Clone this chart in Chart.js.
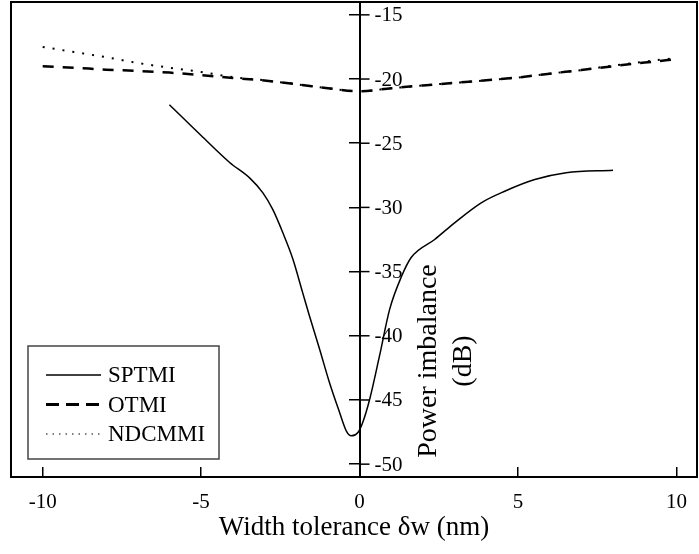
<!DOCTYPE html>
<html>
<head>
<meta charset="utf-8">
<script src="https://cdn.jsdelivr.net/npm/chart.js@4.4.0/dist/chart.umd.min.js"></script>
<style>
  html, body { margin: 0; padding: 0; background: #fff; }
</style>
</head>
<body>
<canvas id="myChart" width="699" height="554"></canvas>
<script>
// width deviation (nm) and imbalance (dB) for each design
const sptmiX = [-6.0, -5.0, -4.1, -3.47, -3.05, -2.74, -2.42, -2.1, -1.8, -1.58, -1.26, -0.95, -0.63, -0.42, -0.26, -0.05, 0.1, 0.32, 0.63, 0.95, 1.32, 1.63, 2.37, 3.0, 3.84, 4.58, 5.53, 6.52, 8.0];
const sptmiY = [-22.0, -24.4, -26.5, -27.7, -28.87, -30.16, -31.98, -34.05, -36.6, -38.46, -41.05, -43.64, -45.97, -47.4, -47.79, -47.53, -46.75, -44.94, -41.57, -37.94, -35.4, -33.9, -32.5, -31.2, -29.64, -28.74, -27.83, -27.3, -27.1];

const wideX = [-10, -9, -8, -7, -6, -5, -4, -3, -2, -1, 0, 1, 2, 3, 4, 5, 6, 7, 8, 9, 10];
const otmiY = [-19.0, -19.12, -19.27, -19.37, -19.5, -19.7, -19.92, -20.12, -20.4, -20.72, -20.95, -20.72, -20.5, -20.3, -20.1, -19.88, -19.58, -19.3, -19.0, -18.72, -18.45];
const ndcmmiY = [-17.5, -17.9, -18.3, -18.75, -19.12, -19.45, -19.85, -20.1, -20.4, -20.72, -20.95, -20.72, -20.5, -20.3, -20.1, -19.88, -19.58, -19.3, -18.95, -18.65, -18.35];

const xTicks = [-10, -5, 0, 5, 10];
const yTicks = [-15, -20, -25, -30, -35, -40, -45, -50];

const serif = 'Liberation Serif';

function pairs(xs, ys) {
  return xs.map((x, i) => ({ x: x, y: ys[i] }));
}

// legend sample styles
const legendRows = [
  { label: 'SPTMI', dash: [], width: 1.5 },
  { label: 'OTMI', dash: [13, 7], width: 3 },
  { label: 'NDCMMI', dash: [1.5, 5], width: 1.2 },
];

// frame, y axis labels/ticks on the right side, y title and legend box
const decorations = {
  id: 'decorations',
  afterDraw(chart) {
    const ctx = chart.ctx;
    const area = chart.chartArea;
    const xs = chart.scales.x;
    const ys = chart.scales.y;
    const x0 = xs.getPixelForValue(0);

    ctx.save();
    ctx.strokeStyle = '#000';
    ctx.lineWidth = 2;
    ctx.strokeRect(area.left, area.top, area.right - area.left, area.bottom - area.top);

    ctx.lineWidth = 1.5;
    ctx.fillStyle = '#000';
    ctx.font = '21px "' + serif + '"';
    ctx.textAlign = 'left';
    ctx.textBaseline = 'middle';
    ys.ticks.forEach(t => {
      const y = ys.getPixelForValue(t.value);
      ctx.beginPath();
      ctx.moveTo(x0, y);
      ctx.lineTo(x0 + 10, y);
      ctx.stroke();
      ctx.fillText(String(t.value), x0 + 15, y + 1);
    });

    // rotated two-line title
    ctx.save();
    ctx.translate(x0 + 86, 361);
    ctx.rotate(-Math.PI / 2);
    ctx.textAlign = 'center';
    ctx.font = '28px "' + serif + '"';
    ctx.fillText('Power imbalance', 0, -17);
    ctx.fillText('(dB)', 0, 18);
    ctx.restore();

    // legend
    ctx.strokeStyle = '#444';
    ctx.lineWidth = 1.5;
    ctx.strokeRect(28, 346, 191, 113);
    ctx.font = '23px "' + serif + '"';
    ctx.textAlign = 'left';
    legendRows.forEach((r, i) => {
      const y = 375 + i * 29.5;
      ctx.strokeStyle = '#000';
      ctx.lineWidth = r.width;
      ctx.setLineDash(r.dash);
      ctx.beginPath();
      ctx.moveTo(46, y);
      ctx.lineTo(101, y);
      ctx.stroke();
      ctx.setLineDash([]);
      ctx.fillText(r.label, 108, y + 1);
    });
    ctx.restore();
  }
};

const data = {
  datasets: [
    {
      label: 'SPTMI',
      data: pairs(sptmiX, sptmiY),
      borderColor: '#000',
      borderWidth: 1.5,
      pointRadius: 0,
      cubicInterpolationMode: 'monotone',
    },
    {
      label: 'OTMI',
      data: pairs(wideX, otmiY),
      borderColor: '#000',
      borderWidth: 2.5,
      borderDash: [11, 9],
      pointRadius: 0,
      cubicInterpolationMode: 'monotone',
    },
    {
      label: 'NDCMMI',
      data: pairs(wideX, ndcmmiY),
      borderColor: '#000',
      borderWidth: 2,
      borderDash: [2, 8],
      pointRadius: 0,
      cubicInterpolationMode: 'monotone',
    },
  ],
};

const config = {
  type: 'line',
  data: data,
  options: {
    responsive: false,
    devicePixelRatio: 1,
    animation: false,
    layout: { padding: { left: 11, right: 2, top: 2, bottom: 0 } },
    plugins: { legend: { display: false }, tooltip: { enabled: false } },
    scales: {
      x: {
        type: 'linear',
        min: -11,
        max: 10.65,
        afterBuildTicks: s => { s.ticks = xTicks.map(v => ({ value: v })); },
        afterFit: s => {
          s.height = 77;
          s.paddingLeft = 0;
          s.paddingRight = 0;
        },
        grid: { display: true, drawOnChartArea: false, tickLength: -10, color: '#000', lineWidth: 1.5 },
        border: { display: true, color: '#000', width: 2 },
        ticks: { color: '#000', font: { family: serif, size: 21 }, padding: 23, maxRotation: 0 },
        title: {
          display: true,
          text: 'Width tolerance δw (nm)',
          color: '#000',
          font: { family: serif, size: 27 },
          padding: { top: 0, bottom: 10 },
        },
      },
      y: {
        type: 'linear',
        min: -51,
        max: -14,
        position: { x: 0 },
        afterBuildTicks: s => { s.ticks = yTicks.map(v => ({ value: v })); },
        grid: { display: true, drawOnChartArea: false, tickLength: 10, color: '#000', lineWidth: 1.5 },
        border: { display: true, color: '#000', width: 2 },
        ticks: { display: false },
      },
    },
  },
  plugins: [decorations],
};

const myChart = new Chart(document.getElementById('myChart'), config);
</script>
</body>
</html>
